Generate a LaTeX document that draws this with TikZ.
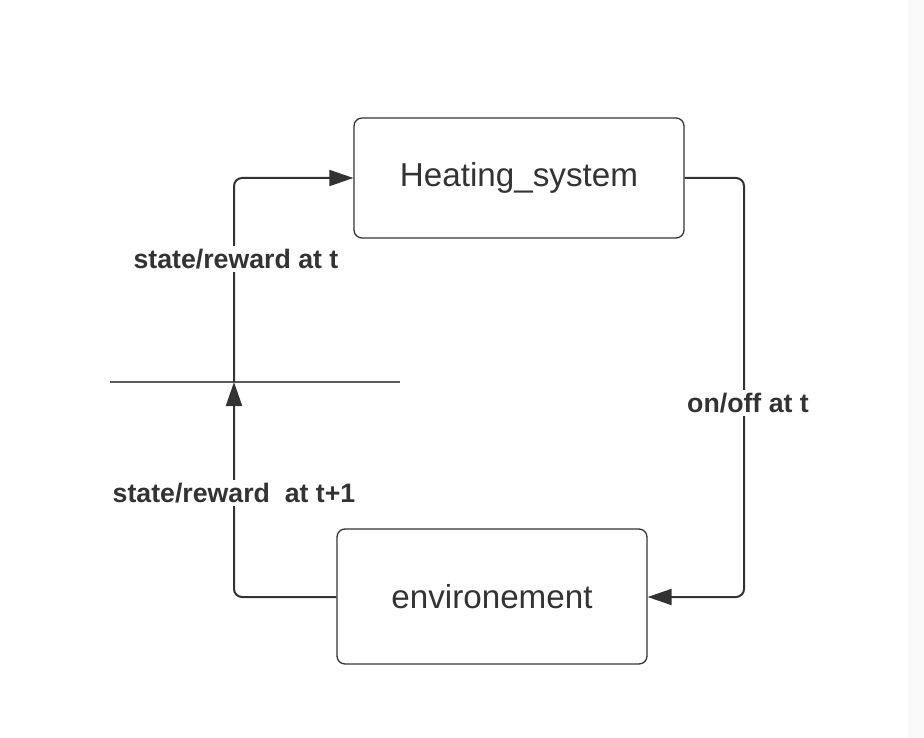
\documentclass[tikz,border=0pt]{standalone}
\usepackage{fontspec}
\setmainfont{Liberation Sans}
\usetikzlibrary{arrows.meta}
\definecolor{ink}{HTML}{333333}
\definecolor{hcol}{HTML}{5A5A5A}
\tikzset{
  x=1pt,y=-1pt,
  box/.style={draw=ink,line width=1.3pt,rounded corners=8pt,inner sep=0pt,font=\fontsize{33.2}{38}\selectfont,text=ink},
  conn/.style={draw=ink,line width=2pt,rounded corners=8pt,-{Triangle[length=24pt,width=16pt]}},
  lbl/.style={fill=white,inner sep=3pt,font=\bfseries\fontsize{26.7}{31}\selectfont,text=ink}
}
\begin{document}
\begin{tikzpicture}
\useasboundingbox (0,0) rectangle (924,738);
\fill[white] (0,0) rectangle (924,738);
\fill[gray!4] (908,0) rectangle (924,738);
\node[box,minimum width=330pt,minimum height=120pt] (heat) at (519,178) {Heating\_system};
\node[box,minimum width=310pt,minimum height=135pt] (env) at (492,596.5) {environement};
\coordinate (hl) at (110,382);
\coordinate (hr) at (400,382);
\coordinate (mid) at (234,382);
\draw[draw=hcol,line width=1.3pt] (hl) -- (hr);
\draw[conn] (env.west |- 0,597) -| (mid);
\draw[conn] (mid) |- (heat.west);
\draw[conn] (heat.east) -| (744,400) |- (env.east |- 0,597);
\node[lbl] (l1) at (236,259) {state/reward at t};
\node[lbl] (l2) at (234,493) {state/reward\ \ at t+1};
\node[lbl] (l3) at (748,403) {on/off at t};
\end{tikzpicture}
\end{document}
